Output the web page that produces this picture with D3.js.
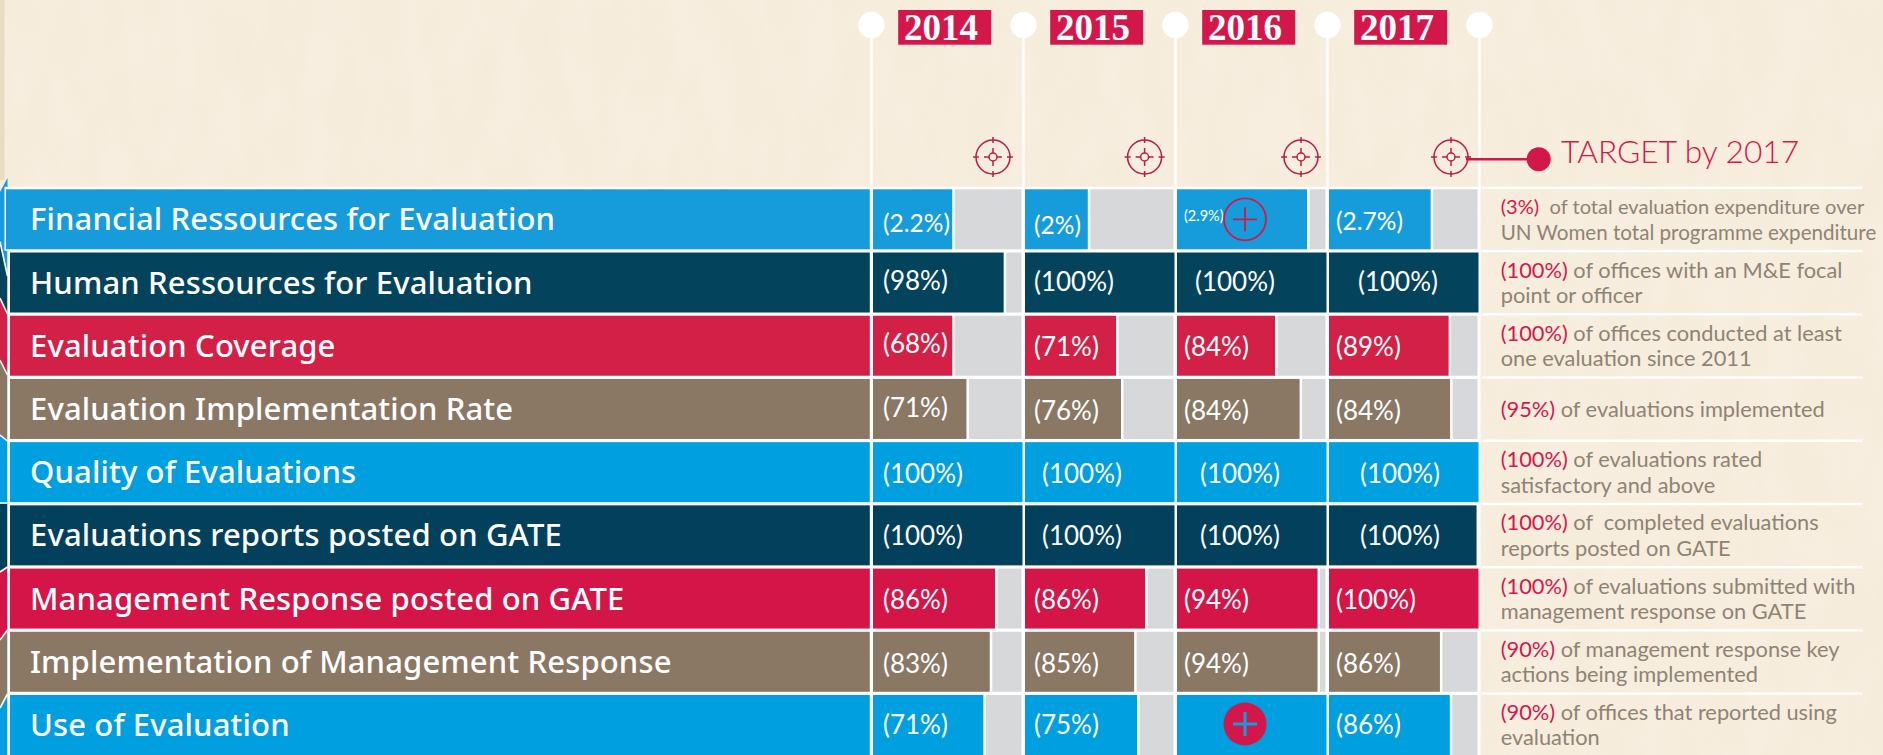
<!DOCTYPE html>
<html>
<head>
<meta charset="utf-8">
<script src="https://cdnjs.cloudflare.com/ajax/libs/d3/7.8.5/d3.min.js"></script>
<style>
html,body{margin:0;padding:0;background:#f5ecdb;overflow:hidden}
svg{display:block}
text{font-family:Lato,"Open Sans",sans-serif;white-space:pre}
</style>
</head>
<body>
<svg id="chart" width="1883" height="755"></svg>
<script>
// ---- data ----
const years = ["2014","2015","2016","2017"];
const indicators = ["Financial Ressources for Evaluation","Human Ressources for Evaluation","Evaluation Coverage","Evaluation Implementation Rate","Quality of Evaluations","Evaluations reports posted on GATE","Management Response posted on GATE","Implementation of Management Response","Use of Evaluation"];
const kinds = ["lightblue","navy","crimson","taupe","blue","navy2","red","taupe","blue"];
// printed value labels, per year
const labels2014 = ["(2.2%)","(98%)","(68%)","(71%)","(100%)","(100%)","(86%)","(83%)","(71%)"];
const labels2015 = ["(2%)","(100%)","(71%)","(76%)","(100%)","(100%)","(86%)","(85%)","(75%)"];
const labels2016 = ["(2.9%)","(100%)","(84%)","(84%)","(100%)","(100%)","(94%)","(94%)",""];
const labels2017 = ["(2.7%)","(100%)","(89%)","(84%)","(100%)","(100%)","(100%)","(86%)","(86%)"];
// share of each cell that the coloured bar fills in the picture
const fill2014 = [0.53,0.874,0.53,0.625,1,1,0.816,0.781,0.738];
const fill2015 = [0.42,1,0.609,0.642,1,1,0.803,0.73,0.75];
const fill2016 = [0.87,1,0.656,0.82,1,1,0.94,0.94,1];
const fill2017 = [0.68,1,0.80,0.81,1,0.987,1,0.742,0.808];
const targetValues = ["(3%)","(100%)","(100%)","(95%)","(100%)","(100%)","(100%)","(90%)","(90%)"];
const targetLine1 = ["  of total evaluation expenditure over"," of offices with an M&E focal"," of offices conducted at least"," of evaluations implemented"," of evaluations rated"," of  completed evaluations"," of evaluations submitted with"," of management response key"," of offices that reported using"];
const targetLine2 = ["UN Women total programme expenditure","point or officer","one evaluation since 2011","","satisfactory and above","reports posted on GATE","management response on GATE","actions being implemented","evaluation"];
const targetTitle = "TARGET by 2017";

// ---- layout and style ----
const palette = {lightblue:"#169cda",navy:"#04435c",crimson:"#d32046",taupe:"#8a7865",blue:"#009fdf",navy2:"#02405b",red:"#d31548"};
const RED="#d4174a", TEXTGRAY="#908374", GREY="#d7d8da";
const labelInset = [[10,9,7,7],[10,9,18,29],[10,9,7,7],[10,9,7,7],[10,17,23,31],[10,17,23,31],[10,9,7,7],[10,9,7,7],[10,9,7,7]];
const labelDy = [[12.7,14.7,2,10.7],[7,8,8,8],[7.3,10.3,10.3,10.3],[7.7,11,11,11],[10.4,10.4,10.4,10.4],[9.7,9.7,9.7,9.7],[10.8,10.8,10.8,10.8],[11,11,11,11],[9,9,9,9]];
const chevL = [192,241.7,298,360,435,503,572,640,708,755];
const chevR = [178,276,314,375,441,503,567,630,694,755];

const fills=[fill2014,fill2015,fill2016,fill2017], valueLabels=[labels2014,labels2015,labels2016,labels2017];
const svg=d3.select("#chart");
const W=1883,H=755;

const x=d3.scaleBand().domain(years).range([873,873+152*4-2.5]).paddingInner(2.5/152).paddingOuter(0);
const y=d3.scaleBand().domain(indicators).range([189.3,755]).paddingInner(3.2/63.2).paddingOuter(0);
const len=d3.scaleLinear().domain([0,1]).range([0,x.bandwidth()]);
const step=x.step();

// paper
const defs=svg.append("defs");
const f=defs.append("filter").attr("id","paper").attr("x",0).attr("y",0).attr("width","100%").attr("height","100%");
f.append("feTurbulence").attr("type","fractalNoise").attr("baseFrequency","0.03 0.012").attr("numOctaves",4).attr("seed",7);
f.append("feColorMatrix").attr("type","matrix").attr("values","0 0 0 0 0.80  0 0 0 0 0.68  0 0 0 0 0.45  0.8 0 0 0 -0.28");
svg.append("rect").attr("width",W).attr("height",H).attr("fill","#f7eedf");
svg.append("rect").attr("width",W).attr("height",H).attr("filter","url(#paper)").attr("opacity",0.3);
svg.append("rect").attr("x",0).attr("y",0).attr("width",4.5).attr("height",180).attr("fill","#e9dcc0");

// left chevrons
const chev=svg.append("g");
indicators.forEach((d,i)=>{
  chev.append("polygon")
    .attr("points",[[0,chevL[i]],[7.5,chevR[i]],[7.5,chevR[i+1]],[0,chevL[i+1]]].join(" "))
    .attr("fill",palette[kinds[i]]);
  if(i>0) chev.append("line").attr("x1",0).attr("y1",chevL[i]).attr("x2",7.5).attr("y2",chevR[i]).attr("stroke","#fff").attr("stroke-width",1.6);
});

// white backing of the table
svg.append("rect").attr("x",4.5).attr("y",186.8).attr("width",1480.5-4.5).attr("height",64).attr("fill","#fff");
svg.append("rect").attr("x",7.5).attr("y",250).attr("width",1480.5-7.5).attr("height",505).attr("fill","#fff");

// vertical rules and pins
const pinX=[...years.map(d=>x(d)-1.6),x(years[3])+step-1.6];
svg.append("g").selectAll("line").data(pinX).join("line")
  .attr("x1",d=>d).attr("x2",d=>d).attr("y1",25).attr("y2",190)
  .attr("stroke","#fff").attr("stroke-width",2.4);
svg.append("g").selectAll("circle").data(pinX).join("circle")
  .attr("cx",d=>d).attr("cy",25).attr("r",13.2).attr("fill","#fff");

// year tags
const tag=svg.append("g").selectAll("g").data(years).join("g")
  .attr("transform",d=>`translate(${x(d)+25.2},10)`);
tag.append("rect").attr("width",93).attr("height",34.7).attr("fill",RED);
tag.append("text").attr("x",42.8).attr("y",30).attr("text-anchor","middle")
  .style("font-family",'"Liberation Serif",serif').style("font-weight",700).style("font-size","37px")
  .attr("fill","#fff").text(d=>d);

// target icons
const tgt=svg.append("g").selectAll("g").data(years).join("g")
  .attr("transform",(d,i)=>`translate(${x(d)+[120,119.6,124,122][i]},157)`)
  .attr("fill","none").attr("stroke","#b81c47").attr("stroke-width",1.5);
tgt.append("circle").attr("r",17);
tgt.append("circle").attr("r",4);
[[0,-20,0,-14],[0,14,0,20],[-20,0,-14,0],[14,0,20,0],[0,-9,0,-4],[0,4,0,9],[-9,0,-4,0],[4,0,9,0]].forEach(s=>{
  tgt.append("line").attr("x1",s[0]).attr("y1",s[1]).attr("x2",s[2]).attr("y2",s[3]);
});
svg.append("line").attr("x1",1466).attr("x2",1538).attr("y1",159.3).attr("y2",159.3).attr("stroke",RED).attr("stroke-width",2.6);
svg.append("circle").attr("cx",1538.7).attr("cy",159.3).attr("r",12).attr("fill",RED);
svg.append("text").attr("x",1561).attr("y",163).attr("fill",RED).style("font-size","31.7px").style("font-weight",300).text(targetTitle);

// rows
const row=svg.append("g").selectAll("g").data(indicators).join("g")
  .attr("transform",d=>`translate(0,${y(d)})`);
row.append("rect").attr("x",(d,i)=>i===0?6:10).attr("width",(d,i)=>869.8-(i===0?6:10))
  .attr("height",y.bandwidth()).attr("fill",(d,i)=>palette[kinds[i]]);
const rowText=row.append("text").attr("x",30).attr("y",41).attr("fill","#fff")
  .style("font-family",'"Noto Sans",sans-serif')
  .style("font-size","31px").style("font-weight",500).text(d=>d);
// the first title spans 525 px in the picture; spacing is set so this font does too
const firstLen=rowText.node().getComputedTextLength();
rowText.style("letter-spacing",((525-firstLen)/34)+"px");

years.forEach((yr,c)=>{
  const cell=row.append("g").attr("transform",`translate(${x(yr)},0)`);
  cell.filter((d,i)=>fills[c][i]<0.97).append("rect")
    .attr("x",(d)=>len(fills[c][indicators.indexOf(d)])+2.5)
    .attr("width",d=>x.bandwidth()-len(fills[c][indicators.indexOf(d)])-3.5)
    .attr("height",y.bandwidth()).attr("fill",GREY);
  cell.append("rect").attr("width",d=>len(fills[c][indicators.indexOf(d)]))
    .attr("height",y.bandwidth()).attr("fill",d=>palette[kinds[indicators.indexOf(d)]]);
  cell.append("text")
    .attr("x",d=>labelInset[indicators.indexOf(d)][c])
    .attr("y",d=>y.bandwidth()/2+labelDy[indicators.indexOf(d)][c])
    .attr("fill","#fff")
    .style("font-size",d=>{const r=indicators.indexOf(d);return r===0?(c===2?"14.5px":"24.5px"):"26px";})
    .style("font-weight",400)
    .text(d=>valueLabels[c][indicators.indexOf(d)]);
});

// plus marks in the 2016 column
const cx16=x("2016")+68;
const ring=svg.append("g").attr("transform",`translate(${cx16},${y(indicators[0])+30})`);
ring.append("circle").attr("r",21).attr("fill","none").attr("stroke",RED).attr("stroke-width",1.8);
ring.append("path").attr("d","M-12,0H12M0,-12V12").attr("stroke",RED).attr("stroke-width",1.8);
const disc=svg.append("g").attr("transform",`translate(${cx16},${y(indicators[8])+29})`);
disc.append("circle").attr("r",21.5).attr("fill",RED);
disc.append("path").attr("d","M-12,0H12M0,-12V12").attr("stroke","#169cda").attr("stroke-width",3);

// target column
const note=svg.append("g").selectAll("g").data(indicators).join("g")
  .attr("transform",d=>`translate(1500.7,${y(d)})`);
note.append("rect").attr("x",-19).attr("y",-2.6).attr("width",381).attr("height",2.4).attr("fill","#fff");
const l1=note.append("text").attr("y",(d,i)=>targetLine2[i]?25:37.7).style("font-size",(d,i)=>i===0?"20.1px":"21.8px");
l1.append("tspan").attr("fill",RED).text((d,i)=>targetValues[i]);
l1.append("tspan").attr("fill",TEXTGRAY).text((d,i)=>targetLine1[i]);
note.append("text").attr("y",50.5).attr("fill",TEXTGRAY).style("font-size",(d,i)=>i===0?"20.6px":"21.8px").text((d,i)=>targetLine2[i]);
</script>
</body>
</html>
